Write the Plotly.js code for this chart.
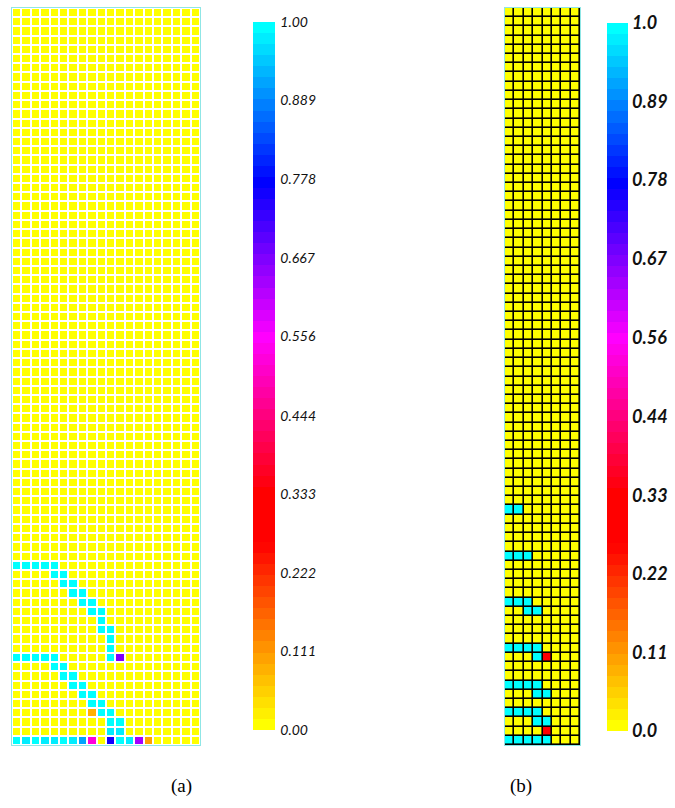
<!DOCTYPE html>
<html>
<head>
<meta charset="utf-8">
<script src="https://cdn.plot.ly/plotly-3.0.1.min.js"></script>
<style>html,body{margin:0;padding:0;background:#fff;}#chart{width:675px;height:808px;}</style>
</head>
<body>
<div id="chart"></div>
<script>
// ---------------- DATA ----------------
const nRows = 80;
const nColsA = 20;
const nColsB = 8;

// Panel (a): non-zero cells (row 0 = bottom), all other cells are 0
const aRow = [19,19,19,19,19, 18,18, 17,17, 16,16, 15,15, 14,14, 13, 12,12, 11, 10,
              9,9,9,9,9,9,9, 8,8, 7,7, 6,6, 5,5, 4,4, 3,3,3, 2,2, 1,1,
              0,0,0,0,0,0,0,0,0,0,0,0,0,0];
const aCol = [0,1,2,3,4, 4,5, 5,6, 6,7, 7,8, 8,9, 9, 9,10, 10, 10,
              0,1,2,3,4,10,11, 4,5, 5,6, 6,7, 7,8, 8,9, 8,9,10, 10,11, 10,11,
              0,1,2,3,4,5,6,7,8,10,11,12,13,14];
const aVal = [1,1,1,1,1, 1,1, 1,1, 1,1, 1,1, 1,1, 1, 1,1, 1, 1,
              1,1,1,1,1,1,0.66, 1,1, 1,1, 1,1, 1,1, 1,1, 0.08,1,1, 1,1, 0.97,0.97,
              1,0.98,1,0.97,0.98,1,0.97,0.92,0.53,0.76,1,0.98,0.64,0.1];

// Panel (b): non-zero cells
const bRow = [25,25, 20,20,20, 15,15,15, 14,14, 10,10,10,10, 9,9, 6,6,6,6, 5,5, 3,3,3,3, 2,2, 1, 0,0,0,0,0];
const bCol = [0,1, 0,1,2, 0,1,2, 2,3, 0,1,2,3, 3,4, 0,1,2,3, 3,4, 0,1,2,3, 3,4, 4, 0,1,2,3,4];
const bVal = [1,1, 1,1,1, 1,1,1, 1,1, 1,1,1,1, 1,0.3, 1,1,1,1, 1,1, 1,1,1,1, 1,1, 0.3, 1,1,1,1,1];

// Colorbar tick labels
const tickValsA = [0, 0.111, 0.222, 0.333, 0.444, 0.556, 0.667, 0.778, 0.889, 1.0];
const tickTextA = ["0.00","0.111","0.222","0.333","0.444","0.556","0.667","0.778","0.889","1.00"];
const tickValsB = [0, 0.111, 0.222, 0.333, 0.444, 0.556, 0.667, 0.778, 0.889, 1.0];
const tickTextB = ["0.0","0.11","0.22","0.33","0.44","0.56","0.67","0.78","0.89","1.0"];

// ---------------- BUILD ----------------
function buildZ(nr, nc, rows, cols, vals) {
  const z = [];
  for (let r = 0; r < nr; r++) { z.push(new Array(nc).fill(0)); }
  for (let i = 0; i < rows.length; i++) { z[rows[i]][cols[i]] = vals[i]; }
  return z;
}
const zA = buildZ(nRows, nColsA, aRow, aCol, aVal);
const zB = buildZ(nRows, nColsB, bRow, bCol, bVal);

// banded colour scale: yellow -> red -> magenta -> blue -> cyan
const anchors = [[0,[255,255,0]],[0.26,[255,0,0]],[0.333,[255,0,0]],[0.556,[255,0,255]],[0.778,[0,0,255]],[1,[0,255,255]]];
function colAt(t) {
  for (let i = 0; i < anchors.length - 1; i++) {
    const [t0,c0] = anchors[i], [t1,c1] = anchors[i+1];
    if (t >= t0 && t <= t1) {
      const f = (t - t0) / (t1 - t0);
      return 'rgb(' + c0.map((v,k)=>Math.round(v + (c1[k]-v)*f)).join(',') + ')';
    }
  }
  return 'rgb(0,255,255)';
}
const NB = 64;
const cscale = [];
for (let k = 0; k < NB; k++) {
  const c = colAt(k / (NB - 1));
  cscale.push([k / NB, c]);
  cscale.push([(k + 1) / NB, c]);
}

const W = 675, H = 808;
const px = v => v / W;
const py = v => 1 - v / H;

const traceA = {
  type: 'heatmap', z: zA, xaxis: 'x', yaxis: 'y', coloraxis: 'coloraxis',
  xgap: 2, ygap: 2, hoverinfo: 'skip'
};
const traceB = {
  type: 'heatmap', z: zB, xaxis: 'x2', yaxis: 'y2', coloraxis: 'coloraxis2',
  xgap: 1.6, ygap: 1.6, hoverinfo: 'skip'
};

const borderCol = '#8fe6e6';
const axCommon = {
  showgrid: false, zeroline: false, showticklabels: false, ticks: '',
  showline: true, mirror: true, linecolor: borderCol, linewidth: 1, fixedrange: true
};

const cbCommon = {
  thicknessmode: 'pixels', lenmode: 'fraction',
  len: (730 - 22) / H, y: py((22 + 730) / 2), yanchor: 'middle', xanchor: 'left',
  outlinewidth: 0, xpad: 0, ypad: 0, tickmode: 'array'
};

const layout = {
  width: W, height: H,
  margin: {l: 0, r: 0, t: 0, b: 0},
  paper_bgcolor: '#ffffff', plot_bgcolor: '#ffffff',
  showlegend: false,
  xaxis: Object.assign({}, axCommon, {domain: [px(12), px(200)], range: [-0.5, nColsA - 0.5], anchor: 'y'}),
  yaxis: Object.assign({}, axCommon, {domain: [py(745), py(8)], range: [-0.5, nRows - 0.5], anchor: 'x'}),
  xaxis2: Object.assign({}, axCommon, {domain: [px(505), px(580)], range: [-0.5, nColsB - 0.5], anchor: 'y2'}),
  yaxis2: Object.assign({}, axCommon, {domain: [py(745), py(8)], range: [-0.5, nRows - 0.5], anchor: 'x2'}),
  coloraxis: {
    cmin: 0, cmax: 1, colorscale: cscale,
    colorbar: Object.assign({}, cbCommon, {
      x: px(253), thickness: 22,
      ticks: 'outside', ticklen: 3, tickcolor: 'rgba(0,0,0,0)',
      tickvals: tickValsA, ticktext: tickTextA,
      tickfont: {family: 'Lato, "DejaVu Sans", sans-serif', size: 14, style: 'italic', color: '#111'}
    })
  },
  coloraxis2: {
    cmin: 0, cmax: 1, colorscale: cscale,
    colorbar: Object.assign({}, cbCommon, {
      x: px(607), thickness: 21, ticks: '',
      len: (731 - 23) / H, y: py((23 + 731) / 2),
      tickvals: tickValsB, ticktext: tickTextB,
      tickfont: {family: 'Lato, "DejaVu Sans", sans-serif', size: 18, style: 'italic', weight: 'bold', color: '#111'}
    })
  },
  shapes: [{
    type: 'rect', xref: 'x2 domain', yref: 'y2 domain', x0: 0, x1: 1, y0: 0, y1: 1,
    fillcolor: '#000000', line: {width: 0}, layer: 'below'
  }],
  annotations: [
    {text: '(a)', xref: 'paper', yref: 'paper', x: px(182), y: py(786), showarrow: false,
     xanchor: 'center', yanchor: 'middle', font: {family: '"Liberation Serif", "Times New Roman", serif', size: 19, color: '#000'}},
    {text: '(b)', xref: 'paper', yref: 'paper', x: px(521), y: py(786), showarrow: false,
     xanchor: 'center', yanchor: 'middle', font: {family: '"Liberation Serif", "Times New Roman", serif', size: 19, color: '#000'}}
  ]
};

Plotly.newPlot('chart', [traceA, traceB], layout, {staticPlot: true, displayModeBar: false});
</script>
</body>
</html>
